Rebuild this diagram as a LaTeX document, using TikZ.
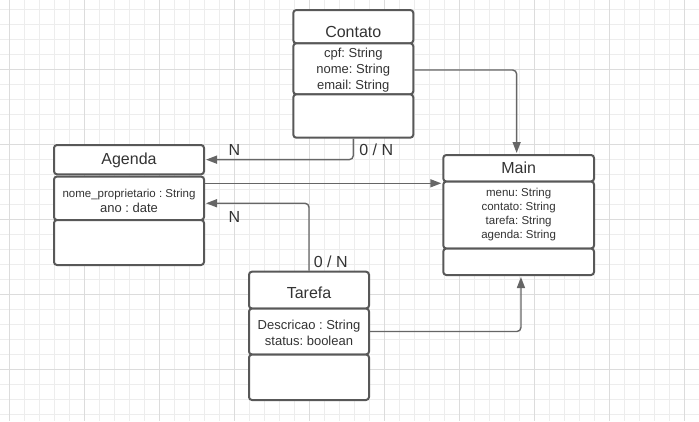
\documentclass[tikz,border=0pt]{standalone}
\usepackage{fontspec}
\setmainfont{Liberation Sans}
\usetikzlibrary{arrows.meta,calc}
\definecolor{gridminor}{HTML}{EDEDED}
\definecolor{gridmajor}{HTML}{DCDCDC}
\definecolor{boxline}{HTML}{585858}
\definecolor{connline}{HTML}{666666}
\definecolor{txt}{HTML}{333333}
\frenchspacing
\tikzset{
  comp/.style={draw=boxline, line width=2pt, rounded corners=3pt, fill=white, inner sep=0pt, shape=rectangle},
  conn/.style={draw=connline, line width=1.4pt, rounded corners=4pt, shorten >=1pt,
    -{Triangle[length=11pt,width=8pt]}},
  hdr/.style={anchor=base, inner sep=0pt, text=txt, font=\fontsize{16}{19}\selectfont},
  attr/.style={anchor=base, inner sep=0pt, text=txt, font=\fontsize{13}{16}\selectfont},
  attrs/.style={anchor=base, inner sep=0pt, text=txt, font=\fontsize{11.5}{14}\selectfont},
  lbl/.style={anchor=base, inner sep=0pt, text=txt, font=\fontsize{16}{19}\selectfont},
}
\begin{document}
\frenchspacing
\begin{tikzpicture}[x=1pt,y=-1pt]
\useasboundingbox (0,0) rectangle (699,421);
\fill[white] (0,0) rectangle (699,421);
% grid
\foreach \i in {0,...,46} \draw[gridminor, line width=1pt] ({9.3+15*\i},0) -- ({9.3+15*\i},421);
\foreach \j in {0,...,27} \draw[gridminor, line width=1pt] (0,{9.3+15*\j}) -- (699,{9.3+15*\j});
\foreach \i in {0,...,9} \draw[gridmajor, line width=1pt] ({9.3+75*\i},0) -- ({9.3+75*\i},421);
\foreach \j in {0,...,4} \draw[gridmajor, line width=1pt] (0,{69.3+75*\j}) -- (699,{69.3+75*\j});

% Contato
\node[comp, minimum width=120pt, minimum height=33.3pt] (conH) at (353.3,26.65) {};
\node[comp, minimum width=120pt, minimum height=51pt] (conB) at (353.3,68.8) {};
\node[comp, minimum width=120pt, minimum height=43.4pt] (conM) at (353.3,116) {};
\node[hdr] (conT) at (353.3,37.3) {Contato};
\node[attr] (conA1) at (353.3,57.3) {cpf: String};
\node[attr] (conA2) at (353.3,73.3) {nome: String};
\node[attr] (conA3) at (353.3,89.3) {email: String};

% Agenda
\node[comp, minimum width=150pt, minimum height=29.3pt] (agH) at (129,159.65) {};
\node[comp, minimum width=150pt, minimum height=43.5pt] (agB) at (129,198.25) {};
\node[comp, minimum width=150pt, minimum height=45pt] (agM) at (129,242.5) {};
\node[hdr] (agT) at (129,164) {Agenda};
\node[attrs] (agA1) at (129,197.3) {nome\_proprietario : String};
\node[attr] (agA2) at (129,212.3) {ano : date};

% Main
\node[comp, minimum width=150.7pt, minimum height=26.5pt] (mainH) at (518.65,168.25) {};
\node[comp, minimum width=150.7pt, minimum height=67pt] (mainB) at (518.65,215) {};
\node[comp, minimum width=150.7pt, minimum height=26.5pt] (mainM) at (518.65,261.75) {};
\node[hdr] (mainT) at (518.65,173.3) {Main};
\node[attrs] (mainA1) at (518.65,196.7) {menu: String};
\node[attrs] (mainA2) at (518.65,210.7) {contato: String};
\node[attrs] (mainA3) at (518.65,224.7) {tarefa: String};
\node[attrs] (mainA4) at (518.65,238.2) {agenda: String};

% Tarefa
\node[comp, minimum width=120pt, minimum height=36.8pt] (tarH) at (309,290.1) {};
\node[comp, minimum width=120pt, minimum height=46pt] (tarB) at (309,331.5) {};
\node[comp, minimum width=120pt, minimum height=45.5pt] (tarM) at (309,377.25) {};
\node[hdr] (tarT) at (309,298.7) {Tarefa};
\node[attr] (tarA1) at (309,329) {Descricao : String};
\node[attr] (tarA2) at (309,345) {status: boolean};

% connectors
\coordinate (c1) at ($(conB.east)+(0,1.2)$);
\draw[conn] (c1) -| ([xshift=-2pt]mainH.north);
\draw[conn] (conM.south) |- (agH.east);
\coordinate (a3) at ($(agB.north east)+(0,7.8)$);
\draw[conn] (a3) -- (a3 -| mainB.west);
\coordinate (t4) at ($(agB.east)+(0,5)$);
\draw[conn] (tarH.north) |- (t4);
\draw[conn] (tarB.east) -| ([xshift=2.3pt]mainM.south);

% labels
\node[lbl] (lblA) at (234.3,155.7) {N};
\node[lbl] (lblB) at (376.3,155.7) {0 / N};
\node[lbl] (lblC) at (234.3,222.7) {N};
\node[lbl] (lblD) at (330.8,267.3) {0 / N};
\end{tikzpicture}
\end{document}
